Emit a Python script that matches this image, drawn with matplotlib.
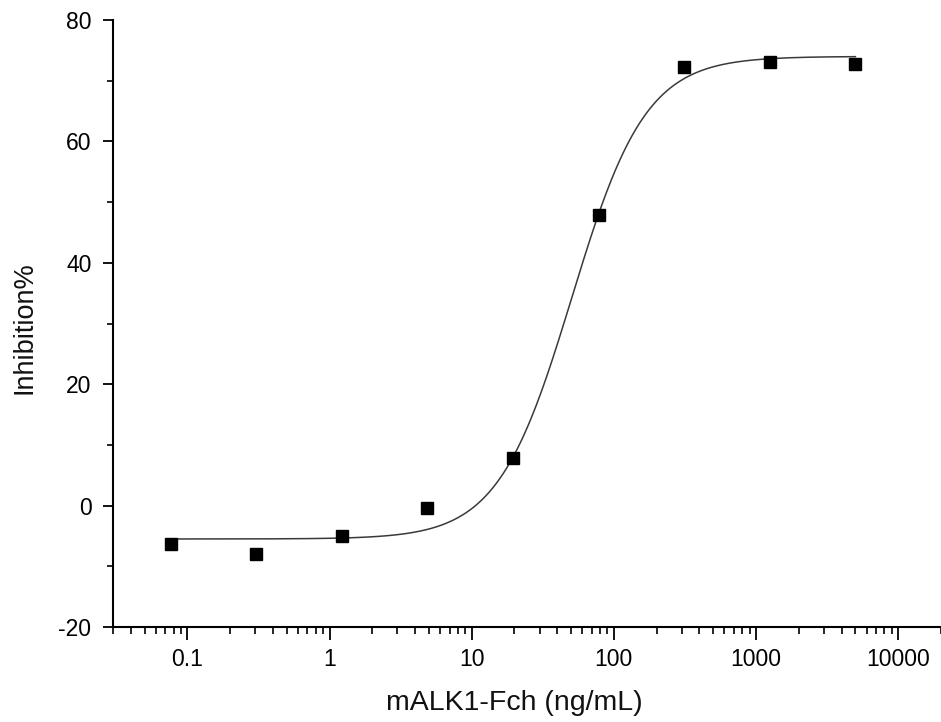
import numpy as np
import matplotlib
matplotlib.use("Agg")
import matplotlib.pyplot as plt
from matplotlib.ticker import LogLocator, FixedLocator, NullFormatter

# Data
conc = [0.0763, 0.305, 1.22, 4.88, 19.53, 78.125, 312.5, 1250, 5000]
inhibition = [-6.4, -7.9, -5.0, -0.4, 7.9, 47.8, 72.3, 73.0, 72.8]

# 4PL fit parameters
fit_bottom = -5.5
fit_top = 74.0
fit_ec50 = 50.6
fit_hill = 1.667

xtick_vals = [0.1, 1, 10, 100, 1000, 10000]
xtick_labels = ["0.1", "1", "10", "100", "1000", "10000"]
ytick_vals = [-20, 0, 20, 40, 60, 80]

plt.rcParams['font.family'] = ['Liberation Sans', 'DejaVu Sans']

fig = plt.figure(figsize=(9.41, 7.22), dpi=100)
ax = fig.add_axes([113/941, (722-627)/722, (941-113)/941, (627-20)/722])

xs = np.logspace(np.log10(min(conc)), np.log10(max(conc)), 400)
ys = fit_bottom + (fit_top - fit_bottom) / (1 + (fit_ec50 / xs) ** fit_hill)
ax.plot(xs, ys, color='#3a3a3a', lw=1.1, zorder=2)
ax.plot(conc, inhibition, ls='none', marker='s', ms=8.3, color='black', zorder=3)

ax.set_xscale('log')
ax.set_xlim(0.03, 20000)
ax.set_ylim(-20, 80)
ax.xaxis.set_major_locator(FixedLocator(xtick_vals))
ax.set_xticklabels(xtick_labels)
ax.xaxis.set_minor_locator(LogLocator(base=10, subs=np.arange(2, 10), numticks=20))
ax.xaxis.set_minor_formatter(NullFormatter())
ax.set_yticks(ytick_vals)
ax.set_yticklabels([str(v) for v in ytick_vals])
ax.yaxis.set_minor_locator(FixedLocator([-10, 10, 30, 50, 70]))

for s in ['top', 'right']:
    ax.spines[s].set_visible(False)
for s in ['left', 'bottom']:
    ax.spines[s].set_linewidth(1.5)
    ax.spines[s].set_color('black')

ax.tick_params(axis='x', which='major', direction='out', length=9, width=1.3,
               labelsize=16.5, colors='black', pad=6)
ax.tick_params(axis='x', which='minor', direction='out', length=4.8, width=1.2, colors='black')
ax.tick_params(axis='y', which='major', direction='out', length=7.5, width=1.3,
               labelsize=16.5, colors='black', pad=8)
ax.tick_params(axis='y', which='minor', direction='out', length=4, width=1.2, colors='black')

ax.set_xlabel('mALK1-Fch (ng/mL)', fontsize=20.5, color='#111111')
ax.xaxis.set_label_coords((514 - 113) / (941 - 113), -(703 - 627) / (627 - 20),
                          transform=ax.transAxes)
ax.xaxis.label.set_va('center')
ax.set_ylabel('Inhibition%', fontsize=19.5, color='#111111')
ax.yaxis.set_label_coords(-(113 - 25) / (941 - 113), (627 - 328) / (627 - 20),
                          transform=ax.transAxes)
ax.yaxis.label.set_va('center')

fig.savefig('out.png', dpi=100, facecolor='white')
